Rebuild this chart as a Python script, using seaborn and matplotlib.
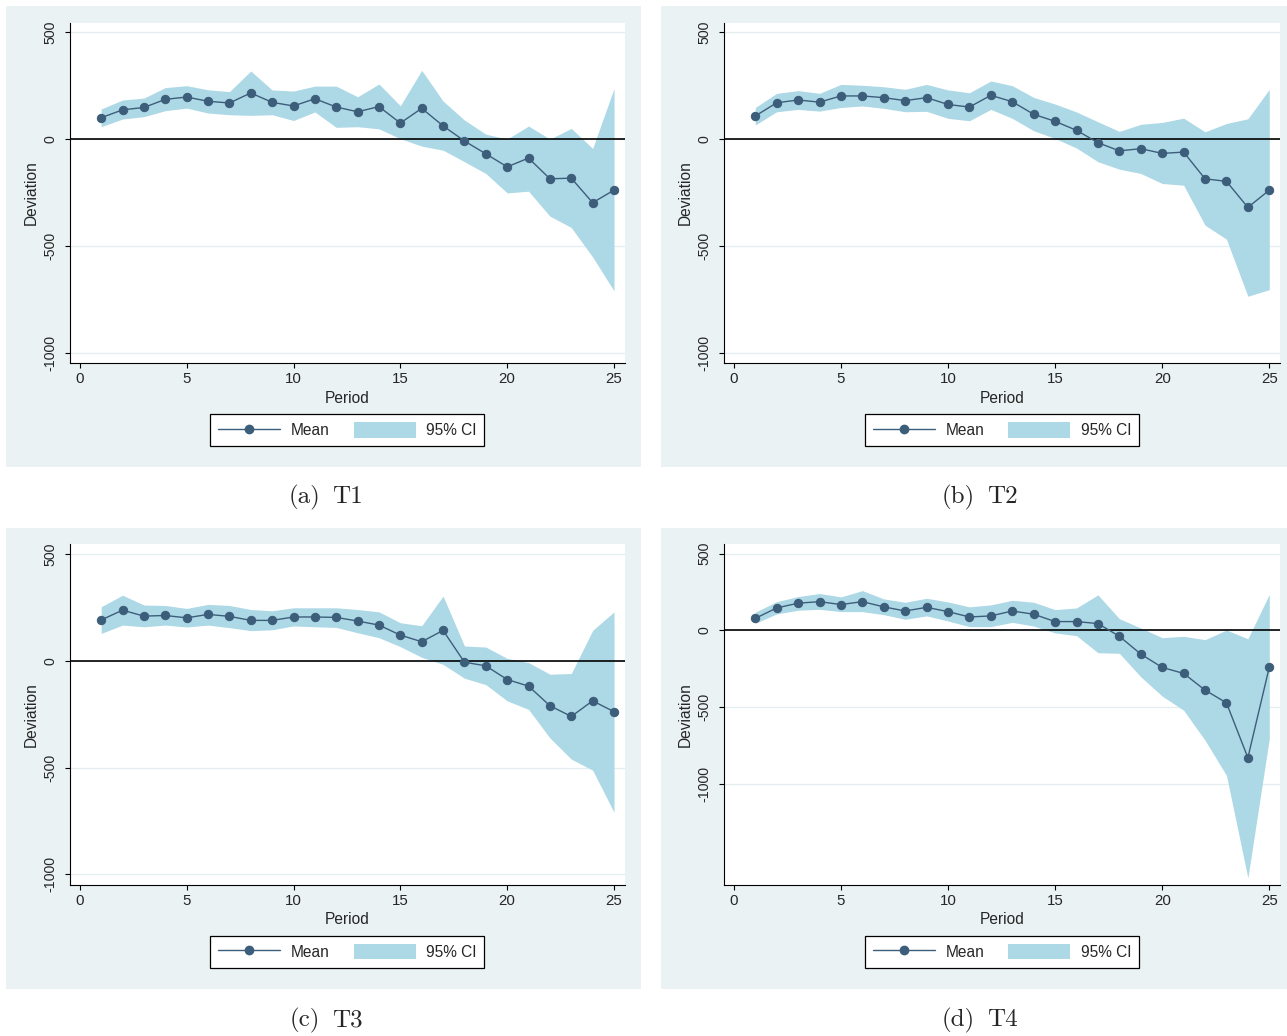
import numpy as np
import pandas as pd
import matplotlib
matplotlib.use("Agg")
import matplotlib.pyplot as plt
from matplotlib.lines import Line2D
from matplotlib.patches import Patch, Rectangle
import seaborn as sns

# ── data (deviation per period)
period = list(range(1, 26))

t1_mean = [100, 137, 148, 186, 197, 177, 169, 216, 172, 155, 189, 150, 128, 152, 75,
           144, 62, -9, -69, -130, -89, -186, -183, -298, -239]
t1_hi = [141, 183, 192, 241, 250, 231, 222, 319, 230, 225, 248, 248, 198, 258, 156,
         322, 178, 89, 23, 0, 61, 0, 50, -44, 237]
t1_lo = [58, 94, 105, 133, 145, 122, 114, 111, 114, 87, 127, 55, 58, 48, 2,
         -33, -52, -106, -161, -252, -244, -361, -414, -552, -711]

t2_mean = [108, 170, 183, 173, 202, 202, 194, 180, 194, 162, 150, 205, 175, 116, 83,
           41, -17, -55, -45, -67, -61, -186, -198, -320, -239]
t2_hi = [148, 214, 227, 214, 256, 252, 245, 233, 256, 230, 217, 272, 250, 195, 164,
         127, 81, 36, 69, 78, 98, 34, 73, 95, 233]
t2_lo = [66, 128, 139, 131, 148, 155, 144, 128, 130, 97, 86, 139, 97, 39, 3,
         -42, -106, -141, -161, -208, -216, -403, -469, -736, -705]

t3_mean = [192, 238, 210, 213, 202, 218, 209, 190, 190, 206, 206, 204, 187, 168, 121,
           90, 143, -6, -23, -87, -118, -210, -260, -187, -238]
t3_hi = [254, 308, 262, 260, 246, 265, 260, 241, 235, 249, 249, 249, 241, 230, 179,
         165, 304, 70, 65, 12, -8, -62, -59, 143, 230]
t3_lo = [129, 168, 160, 168, 159, 168, 156, 142, 146, 164, 160, 157, 132, 109, 67,
         17, -16, -81, -111, -187, -227, -361, -460, -512, -709]

t4_mean = [78, 146, 177, 187, 168, 187, 153, 126, 150, 122, 87, 94, 126, 105, 57,
           57, 44, -39, -155, -242, -281, -390, -473, -831, -240]
t4_hi = [118, 187, 220, 240, 218, 259, 205, 183, 209, 185, 153, 166, 196, 183, 135,
         146, 231, 76, 15, -48, -39, -61, 2, -55, 235]
t4_lo = [46, 107, 131, 137, 122, 122, 102, 72, 94, 61, 24, 24, 52, 28, -17,
         -35, -146, -150, -303, -429, -521, -717, -946, -1615, -706]

yticks = [500, 0, -500, -1000]
xticks = [0, 5, 10, 15, 20, 25]
cap_tags = ["(a)", "(b)", "(c)", "(d)"]
cap_names = ["T1", "T2", "T3", "T4"]

BG = "#EAF2F3"
LINE = "#3D5E7A"
CI = "#ADD8E6"

sns.set_style("white")
plt.rcParams["font.family"] = ["Liberation Sans", "DejaVu Sans"]
plt.rcParams["axes.unicode_minus"] = False

W, H = 1287, 1036
fig = plt.figure(figsize=(W / 100, H / 100), dpi=100)
fig.patch.set_facecolor("white")


def px_rect(x0, y0, x1, y1):
    return [x0 / W, 1 - y1 / H, (x1 - x0) / W, (y1 - y0) / H]


panels = [
    # bg box, axes box, ylim, caption gap centre, data
    ((6, 6, 641, 467), (70, 22.7, 624.7, 363.3), (-1050, 545), (326, 497), (t1_mean, t1_lo, t1_hi)),
    ((661, 6, 1287, 467), (724, 22.7, 1280, 363.3), (-1050, 545), (981, 497), (t2_mean, t2_lo, t2_hi)),
    ((6, 528, 641, 989), (70, 544, 624.7, 885), (-1050, 548), (326, 1020), (t3_mean, t3_lo, t3_hi)),
    ((661, 528, 1287, 989), (724, 544, 1280, 885), (-1661, 563), (981, 1020), (t4_mean, t4_lo, t4_hi)),
]

for i, (bg, box, ylim, cap, (mean, lo, hi)) in enumerate(panels):
    b = px_rect(*bg)
    fig.patches.append(Rectangle((b[0], b[1]), b[2], b[3], transform=fig.transFigure,
                                 facecolor=BG, edgecolor="none", zorder=-10))
    ax = fig.add_axes(px_rect(*box))
    ax.set_zorder(1)
    ax.set_facecolor("white")

    df = pd.DataFrame({"Period": period, "Mean": mean, "lo": lo, "hi": hi})

    for yt in yticks:
        ax.axhline(yt, color="#E4EEF0", lw=0.9, zorder=0)
    ax.fill_between(df["Period"], df["lo"], df["hi"], color=CI, lw=0, zorder=1)
    ax.axhline(0, color="black", lw=1.2, zorder=2)
    sns.lineplot(data=df, x="Period", y="Mean", ax=ax, color=LINE, lw=1.0,
                 marker="o", markersize=6, markeredgecolor=LINE, zorder=3)

    ax.set_xlim(-0.46, 25.5)
    ax.set_ylim(*ylim)
    ax.set_xticks(xticks)
    ax.set_yticks(yticks)
    ax.set_xticklabels([str(v) for v in xticks], fontsize=10.8)
    ax.set_yticklabels([str(v) for v in yticks], fontsize=10.2, rotation=90, va="center")
    ax.tick_params(axis="both", direction="out", length=3.6, width=0.8, color="black",
                   bottom=True, left=True)
    ax.tick_params(axis="y", pad=5.5)
    ax.tick_params(axis="x", pad=3)
    for s in ["top", "right"]:
        ax.spines[s].set_visible(False)
    for s in ["left", "bottom"]:
        ax.spines[s].set_color("black")
        ax.spines[s].set_linewidth(0.8)

    ax.set_xlabel("Period", fontsize=11.2, labelpad=3)
    ax.set_ylabel("Deviation", fontsize=11.2, labelpad=3)

    handles = [Line2D([0], [0], color=LINE, lw=1.0, marker="o", markersize=6),
               Patch(facecolor=CI, edgecolor="none")]
    leg = ax.legend(handles, ["Mean", "95% CI"], loc="center", bbox_to_anchor=(0.5, -0.196),
                    ncol=2, fontsize=11.2, frameon=True, fancybox=False, framealpha=1,
                    edgecolor="black", handlelength=4.0, handleheight=1.15,
                    handletextpad=0.65, columnspacing=1.55, borderpad=0.5)
    leg.get_frame().set_linewidth(0.9)

    fig.text((cap[0] - 6) / W, 1 - cap[1] / H, cap_tags[i], ha="right", va="center",
             fontsize=18, family="cmr10")
    fig.text((cap[0] + 6) / W, 1 - cap[1] / H, cap_names[i], ha="left", va="center",
             fontsize=18, family="cmr10")

fig.savefig("out.png", dpi=100)
